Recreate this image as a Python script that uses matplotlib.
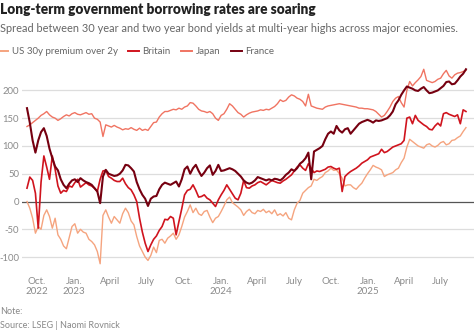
import matplotlib
matplotlib.use("Agg")
import matplotlib.pyplot as plt
import matplotlib.dates as mdates
import pandas as pd
import numpy as np

plt.rcParams['font.family'] = ['Lato', 'DejaVu Sans']

dates = pd.date_range('2022-09-06', periods=157, freq='7D')

us = [0, -12, -30, -57, -45, -50, -25, -15, -27, -48, -30, -60, -68, -80, -85, -65, -45, -40, -57, -50,
      -55, -57, -68, -72, -78, -90, -112, -25, -15, -28, -39, -27, -33, -39, -22, -12, -20, -35, -42, -63,
      -80, -90, -100, -106, -97, -82, -92, -70, -68, -75, -66, -62, -57, -68, -60, -45, -28, -18, -6, -20,
      -12, -22, -25, -18, -16, -28, -38, -30, -27, -18, -8, 3, 8, -2, -6, -10, -15, -25, -18, -14,
      -20, -22, -16, -18, -14, -20, -17, -22, -15, -25, -22, -26, -20, -30, -33, -15, -3, 2, 15, 20,
      25, 28, 40, 38, 42, 45, 52, 55, 60, 56, 57, 50, 42, 28, 30, 30, 25, 22, 28, 33,
      42, 50, 57, 65, 62, 60, 57, 45, 48, 50, 52, 57, 60, 70, 78, 98, 112, 108, 104, 100,
      98, 96, 102, 104, 100, 98, 101, 106, 108, 102, 104, 110, 111, 115, 118, 126, 133]

britain = [24, 44, 38, 15, -48, 35, 82, 62, 40, 82, 58, 28, 15, 20, 18, 28, 26, 34, 40, 26,
           30, 34, 30, 28, 24, 18, 40, 55, 56, 45, 42, 38, 36, 36, 42, 32, 25, 21, 12, 0,
           -30, -55, -75, -90, -78, -68, -62, -52, -45, -32, -33, -27, -30, -60, -36, -13, 12, 20, 22, 30,
           20, 8, 9, 12, 6, 3, -3, -9, 3, 12, 20, 30, 22, 14, 6, 3, 15, 38, 25, 24,
           28, 30, 34, 36, 33, 30, 34, 38, 36, 34, 33, 37, 40, 44, 48, 55, 62, 66, 60, 56,
           68, 60, 52, 55, 54, 56, 58, 62, 63, 60, 58, 60, 18, 45, 50, 54, 57, 60, 64, 69,
           72, 75, 80, 82, 84, 86, 94, 88, 90, 94, 98, 100, 102, 104, 110, 150, 152, 140, 155, 146,
           142, 138, 135, 130, 129, 136, 141, 136, 158, 160, 157, 155, 153, 156, 140, 165, 162]

japan = [135, 138, 142, 146, 150, 155, 158, 162, 156, 152, 150, 146, 149, 153, 156, 154, 158, 160, 157, 156,
         158, 160, 157, 158, 150, 148, 143, 117, 138, 136, 134, 137, 134, 132, 129, 131, 130, 133, 130, 128,
         132, 128, 130, 128, 135, 142, 143, 152, 158, 162, 162, 164, 166, 165, 168, 166, 170, 172, 178, 177,
         172, 166, 163, 162, 160, 162, 158, 150, 146, 155, 158, 166, 176, 172, 166, 160, 157, 152, 156, 159,
         161, 162, 163, 165, 164, 166, 165, 168, 171, 176, 183, 180, 182, 188, 192, 190, 186, 184, 180, 172,
         193, 172, 170, 168, 167, 166, 170, 172, 173, 174, 175, 176, 175, 174, 173, 172, 171, 170, 168, 168,
         167, 167, 166, 165, 162, 157, 152, 155, 162, 170, 180, 186, 189, 178, 170, 200, 216, 208, 214, 219,
         225, 238, 218, 216, 214, 216, 220, 222, 230, 236, 226, 222, 228, 231, 232, 234, 236]

france = [168, 142, 110, 88, 110, 125, 132, 118, 95, 78, 63, 56, 40, 30, 24, 32, 38, 40, 35, 42,
          38, 35, 33, 30, 24, 18, -3, 45, 57, 50, 48, 46, 47, 50, 56, 66, 65, 60, 54, 35,
          22, 12, 5, -8, 5, 9, 10, 22, 30, 34, 32, 30, 33, 36, 27, 40, 58, 63, 50, 60,
          66, 55, 46, 52, 60, 65, 48, 55, 66, 55, 56, 58, 60, 58, 55, 50, 45, 38, 34, 32,
          34, 38, 44, 42, 40, 38, 40, 38, 41, 40, 38, 42, 48, 52, 58, 55, 60, 68, 72, 78,
          88, 40, 90, 93, 96, 100, 112, 122, 126, 122, 136, 128, 124, 130, 132, 122, 128, 134, 140, 143,
          145, 147, 145, 142, 146, 145, 146, 148, 150, 155, 162, 175, 182, 192, 200, 207, 205, 203, 200, 199,
          203, 206, 200, 195, 196, 198, 200, 204, 208, 215, 216, 211, 212, 218, 225, 230, 238]

yticks = [-100, -50, 0, 50, 100, 150, 200]
xtick_dates = ['2022-10-01', '2023-01-01', '2023-04-01', '2023-07-01', '2023-10-01', '2024-01-01',
               '2024-04-01', '2024-07-01', '2024-10-01', '2025-01-01', '2025-04-01', '2025-07-01']
xtick_labels = ['Oct.\n2022', 'Jan.\n2023', 'April', 'July', 'Oct.', 'Jan.\n2024',
                'April', 'July', 'Oct.', 'Jan.\n2025', 'April', 'July']

names = ['US 30y premium over 2y', 'Britain', 'Japan', 'France']
colors = ['#f5a47f', '#d0141e', '#f07462', '#760010']
widths = [1.0, 1.2, 1.0, 1.5]
series = [us, britain, japan, france]

W, H = 474, 331
fig = plt.figure(figsize=(W / 100, H / 100), dpi=100)
ax = fig.add_axes([22 / W, 1 - 268.2 / H, 1 - 22 / W, (268.2 - 62.6) / H])

handles = []
for s, c, lw, n in zip(series, colors, widths, names):
    h, = ax.plot(dates, s, color=c, lw=lw, label=n, solid_joinstyle='round')
    handles.append(h)

jan23 = mdates.date2num(pd.Timestamp('2023-01-01'))
ax.set_xlim(jan23 - 129.4, jan23 + 995.0)
ax.set_ylim(-120, 250)

for v in yticks:
    if v == 0:
        ax.axhline(v, color='#555555', lw=0.9, zorder=0.5)
    else:
        ax.axhline(v, color='#dddddd', lw=0.9, zorder=0.5)

ax.set_yticks(yticks)
ax.set_yticklabels([str(v) for v in yticks])
ax.set_xticks([mdates.date2num(pd.Timestamp(d)) for d in xtick_dates])
ax.set_xticklabels(xtick_labels)
ax.tick_params(axis='both', length=0, labelsize=7, colors='#8a8a8a')
ax.tick_params(axis='y', pad=2, labelsize=6.8)
ax.tick_params(axis='x', pad=6)
for sp in ax.spines.values():
    sp.set_visible(False)
ax.patch.set_alpha(0)

fig.text(0.0, 1 - 10 / H, 'Long-term government borrowing rates are soaring', fontsize=9.8,
         fontweight='heavy', color='#222222', va='center', ha='left')
fig.text(0.0, 1 - 29 / H, 'Spread between 30 year and two year bond yields at multi-year highs across major economies.',
         fontsize=7.9, color='#666666', va='center', ha='left')

leg = fig.legend(handles=handles, loc='center left', bbox_to_anchor=(-0.005, 1 - 52 / H), ncol=4,
                 frameon=False, fontsize=7, handlelength=1.1, handletextpad=0.35, columnspacing=1.1,
                 borderaxespad=0, borderpad=0)
for t in leg.get_texts():
    t.set_color('#666666')
for l in leg.get_lines():
    l.set_linewidth(1.4)

fig.text(0.0, 1 - 311 / H, 'Note:', fontsize=6.5, color='#888888', va='center', ha='left')
fig.text(0.0, 1 - 326 / H, 'Source: LSEG | Naomi Rovnick', fontsize=6.5, color='#888888', va='center', ha='left')

fig.savefig('out.png', dpi=100)
